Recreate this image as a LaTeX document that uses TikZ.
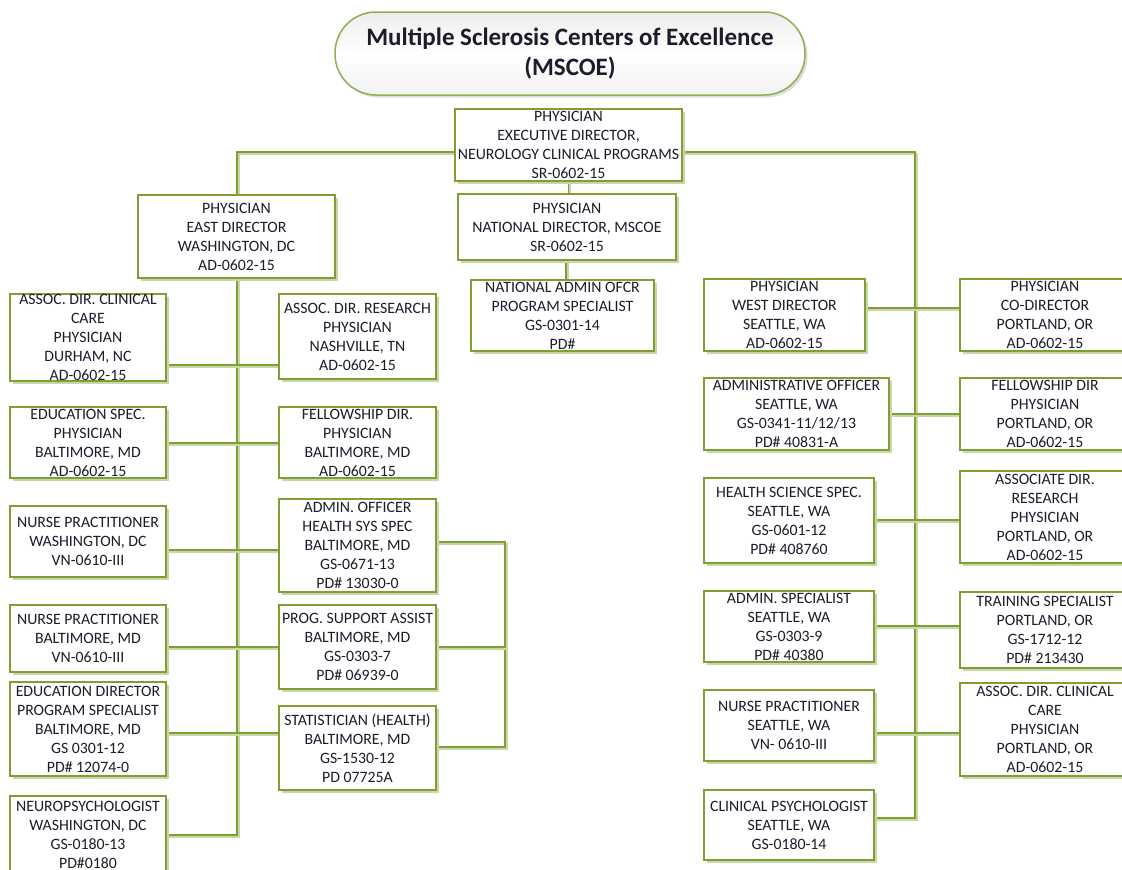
\documentclass[tikz,border=0pt]{standalone}
\usepackage{fontspec}
\setmainfont{Carlito}
\usetikzlibrary{shadows,backgrounds}
\definecolor{boxg}{HTML}{7F9F35}
\definecolor{shadg}{HTML}{C9D7A8}
\definecolor{titleg}{HTML}{8DB050}
\definecolor{txtc}{HTML}{1C1C2C}
\tikzset{
  box/.style={draw=boxg, line width=1.4pt, fill=white, rectangle, inner sep=0pt,
    drop shadow={shadow xshift=2.5pt, shadow yshift=-2.5pt, fill=shadg, opacity=1}},
  txt/.style={align=center, inner sep=0pt, text=txtc, font=\fontsize{15.8}{19}\selectfont},
  conn/.style={draw=boxg, line width=1.2pt,
    preaction={draw=shadg, line width=2pt, transform canvas={shift={(1.8pt,-1.8pt)}}}},
  titlebox/.style={draw=titleg, line width=1.5pt, rounded corners=41pt, inner sep=0pt,
    top color=gray!14, bottom color=gray!10, middle color=white,
    drop shadow={shadow xshift=2.5pt, shadow yshift=-2.5pt, fill=gray!45, opacity=0.6}}
}
\newcommand\bx[6]{%
  \node[box, minimum width={(#4-#2)*1pt}, minimum height={(#5-#3)*1pt}] (#1) at ({(#2+#4)/2},{(#3+#5)/2}) {};
  \node[txt] (#1-t) at (#1.center) {#6};
}
\begin{document}
\begin{tikzpicture}[x=1pt,y=-1pt]
\useasboundingbox (0,0) rectangle (1122,870);
% title
\node[titlebox, minimum width=470pt, minimum height=83pt] (title) at (570,53.5) {};
\node[align=center, inner sep=0pt, text=txtc, font=\fontsize{25}{30}\selectfont\bfseries] (title-t) at (title.center) {Multiple Sclerosis Centers of Excellence\\(MSCOE)};
% top
\bx{exec}{455}{109}{682}{181}{PHYSICIAN\\EXECUTIVE DIRECTOR,\\NEUROLOGY CLINICAL PROGRAMS\\SR-0602-15}
\bx{natl}{458}{194}{676}{260}{PHYSICIAN\\NATIONAL DIRECTOR, MSCOE\\SR-0602-15}
\bx{east}{138}{195}{335}{278}{PHYSICIAN\\EAST DIRECTOR\\WASHINGTON, DC\\AD-0602-15}
\bx{nadm}{471}{280}{654}{351}{NATIONAL ADMIN OFCR\\PROGRAM SPECIALIST\\GS-0301-14\\PD\#}
% left column
\bx{aclin}{10}{294}{166}{381}{ASSOC. DIR. CLINICAL\\CARE\\PHYSICIAN\\DURHAM, NC\\AD-0602-15}
\bx{edspec}{10}{407}{166}{478}{EDUCATION SPEC.\\PHYSICIAN\\BALTIMORE, MD\\AD-0602-15}
\bx{npwas}{10}{506}{166}{577}{NURSE PRACTITIONER\\WASHINGTON, DC\\VN-0610-III}
\bx{npbal}{10}{605}{166}{672}{NURSE PRACTITIONER\\BALTIMORE, MD\\VN-0610-III}
\bx{eddir}{10}{682}{166}{776}{EDUCATION DIRECTOR\\PROGRAM SPECIALIST\\BALTIMORE, MD\\GS 0301-12\\PD\# 12074-0}
\bx{neuro}{10}{796}{166}{873}{NEUROPSYCHOLOGIST\\WASHINGTON, DC\\GS-0180-13\\PD\#0180}
% middle-left column
\bx{ares}{279}{294}{436}{379}{ASSOC. DIR. RESEARCH\\PHYSICIAN\\NASHVILLE, TN\\AD-0602-15}
\bx{fell}{279}{407}{436}{478}{FELLOWSHIP DIR.\\PHYSICIAN\\BALTIMORE, MD\\AD-0602-15}
\bx{aoff}{279}{499}{436}{592}{ADMIN. OFFICER\\HEALTH SYS SPEC\\BALTIMORE, MD\\GS-0671-13\\PD\# 13030-0}
\bx{psa}{279}{605}{436}{689}{PROG. SUPPORT ASSIST\\BALTIMORE, MD\\GS-0303-7\\PD\# 06939-0}
\bx{stat}{279}{706}{436}{790}{STATISTICIAN (HEALTH)\\BALTIMORE, MD\\GS-1530-12\\PD 07725A}
% right column 1
\bx{west}{704}{279}{865}{351}{PHYSICIAN\\WEST DIRECTOR\\SEATTLE, WA\\AD-0602-15}
\bx{waoff}{704}{378}{889}{450}{ADMINISTRATIVE OFFICER\\SEATTLE, WA\\GS-0341-11/12/13\\PD\# 40831-A}
\bx{hss}{704}{478}{874}{563}{HEALTH SCIENCE SPEC.\\SEATTLE, WA\\GS-0601-12\\PD\# 408760}
\bx{aspec}{704}{591}{874}{662}{ADMIN. SPECIALIST\\SEATTLE, WA\\GS-0303-9\\PD\# 40380}
\bx{npsea}{704}{690}{874}{761}{NURSE PRACTITIONER\\SEATTLE, WA\\VN- 0610-III}
\bx{cpsy}{704}{790}{874}{860}{CLINICAL PSYCHOLOGIST\\SEATTLE, WA\\GS-0180-14}
% right column 2
\bx{codir}{960}{279}{1130}{351}{PHYSICIAN\\CO-DIRECTOR\\PORTLAND, OR\\AD-0602-15}
\bx{pfell}{960}{378}{1130}{450}{FELLOWSHIP DIR\\PHYSICIAN\\PORTLAND, OR\\AD-0602-15}
\bx{pres}{960}{471}{1130}{563}{ASSOCIATE DIR.\\RESEARCH\\PHYSICIAN\\PORTLAND, OR\\AD-0602-15}
\bx{train}{960}{592}{1130}{668}{TRAINING SPECIALIST\\PORTLAND, OR\\GS-1712-12\\PD\# 213430}
\bx{pclin}{960}{683}{1130}{776}{ASSOC. DIR. CLINICAL\\CARE\\PHYSICIAN\\PORTLAND, OR\\AD-0602-15}
% connectors
\begin{scope}[on background layer]
\coordinate (Lt) at (237,152);
\coordinate (Lb) at (237,835);
\coordinate (Rt) at (915,152);
\coordinate (Rb) at (915,818);
\coordinate (Bt) at (505,542);
\coordinate (Bm) at (505,647);
\coordinate (Bb) at (505,747);
\draw[conn] (exec.west |- Lt) -- (Lt) -- (Lb) -- (neuro.east |- Lb);
\draw[conn] (exec.east |- Rt) -- (Rt) -- (Rb) -- (cpsy.east |- Rb);
\draw[conn] (exec.south) -- (exec.south |- natl.north);
\draw[conn] (natl.south -| 566,0) -- (nadm.north -| 566,0);
\draw[conn] (aclin.east |- 0,365) -- (ares.west |- 0,365);
\draw[conn] (edspec.east |- 0,443) -- (fell.west |- 0,443);
\draw[conn] (npwas.east |- 0,550) -- (aoff.west |- 0,550);
\draw[conn] (npbal.east |- 0,647) -- (psa.west |- 0,647);
\draw[conn] (eddir.east |- 0,733) -- (stat.west |- 0,733);
\draw[conn] (aoff.east |- Bt) -- (Bt) -- (Bb) -- (stat.east |- Bb);
\draw[conn] (psa.east |- Bm) -- (Bm);
\draw[conn] (west.east |- 0,308) -- (codir.west |- 0,308);
\draw[conn] (waoff.east |- 0,414) -- (pfell.west |- 0,414);
\draw[conn] (hss.east |- 0,520) -- (pres.west |- 0,520);
\draw[conn] (aspec.east |- 0,626) -- (train.west |- 0,626);
\draw[conn] (npsea.east |- 0,733) -- (pclin.west |- 0,733);
\end{scope}
\end{tikzpicture}
\end{document}
